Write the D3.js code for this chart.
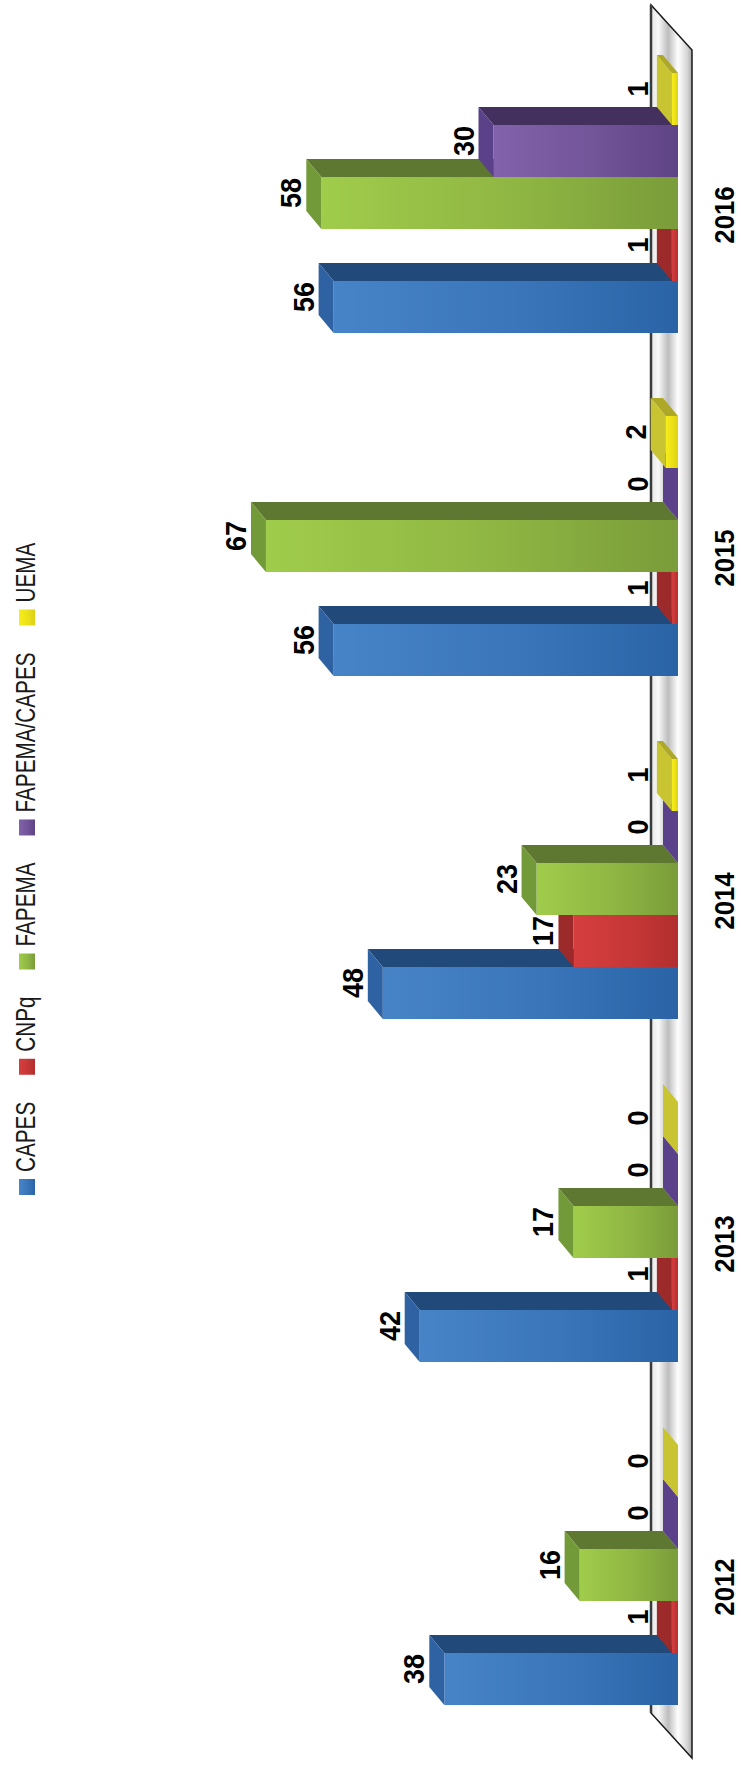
<!DOCTYPE html>
<meta charset='utf-8'>
<html>
<head>
    <title>Bolsas por ano</title>
    <script src='https://d3js.org/d3.v7.min.js'></script>
    <style>
        html, body { margin: 0; padding: 0; background: #ffffff; }
        svg { display: block; }
    </style>
</head>
<body>
<script>

    // data
    const years = ['2012', '2013', '2014', '2015', '2016'];
    const seriesNames = ['CAPES', 'CNPq', 'FAPEMA', 'FAPEMA/CAPES', 'UEMA'];
    const capes = [38, 42, 48, 56, 56];
    const cnpq = [1, 1, 17, 1, 1];
    const fapema = [16, 17, 23, 67, 58];
    const fapemaCapes = [0, 0, 0, 0, 30];
    const uema = [0, 0, 1, 2, 1];
    const seriesValues = [capes, cnpq, fapema, fapemaCapes, uema];

    const width = 741;
    const height = 1766;

    // the chart is drawn as a normal column chart, then turned -90 degrees
    const baseY = 678;      // front bottom of the columns
    const depthX = 18;      // oblique depth of a column
    const depthY = -15;

    const colours = [
        { light: '#4783c7', dark: '#2a64a7', top: '#2f62a2', side: '#214a7b' },
        { light: '#d63e3e', dark: '#b22e2e', top: '#9c2a2a', side: '#862323' },
        { light: '#a0cc4b', dark: '#7a9c3a', top: '#739a38', side: '#5e7731' },
        { light: '#8262aa', dark: '#5e4385', top: '#5a418a', side: '#43305e' },
        { light: '#f6ed1a', dark: '#ddd116', top: '#c9c431', side: '#aea828' }
    ];

    const svg = d3.select('body')
        .append('svg')
        .attr('width', width)
        .attr('height', height);

    const defs = svg.append('defs');

    colours.forEach(function (c, i) {
        const g = defs.append('linearGradient')
            .attr('id', 'front' + i)
            .attr('x1', 0).attr('y1', 0).attr('x2', 0).attr('y2', 1);
        g.append('stop').attr('offset', '0%').attr('stop-color', c.light);
        g.append('stop').attr('offset', '55%').attr('stop-color', d3.interpolateRgb(c.light, c.dark)(0.45));
        g.append('stop').attr('offset', '100%').attr('stop-color', c.dark);
    });

    // floor shading across its depth
    const floorGrad = defs.append('linearGradient')
        .attr('id', 'floorGrad')
        .attr('gradientUnits', 'userSpaceOnUse')
        .attr('x1', 0).attr('y1', 651).attr('x2', 0).attr('y2', 692);
    [['0%', '#e6e6e6'], ['18%', '#f8f8f8'], ['42%', '#bdbdbd'], ['66%', '#ffffff'],
     ['88%', '#d6d6d6'], ['100%', '#a9a9a9']].forEach(function (s) {
        floorGrad.append('stop').attr('offset', s[0]).attr('stop-color', s[1]);
    });

    const chart = svg.append('g')
        .attr('transform', 'translate(0,' + height + ') rotate(-90)');

    // scales
    const x = d3.scaleBand()
        .domain(years)
        .range([61, 1693])
        .paddingInner(0.242)
        .paddingOuter(0);

    const xSeries = d3.scaleBand()
        .domain(seriesNames)
        .range([0, x.bandwidth()])
        .padding(0);

    const y = d3.scaleLinear()
        .domain([0, 70])
        .range([baseY, baseY - 70 * 6.15]);

    // floor
    chart.append('path')
        .attr('d', 'M53,651 L1761,651 L1716,692 L8,692 Z')
        .attr('fill', 'url(#floorGrad)')
        .attr('stroke', '#1a1a1a')
        .attr('stroke-width', 1.5);

    chart.append('line')
        .attr('x1', 53).attr('x2', 1761)
        .attr('y1', 651).attr('y2', 651)
        .attr('stroke', '#3a3a3a')
        .attr('stroke-width', 2.5);

    // flatten to one record per column
    const bars = [];
    years.forEach(function (yr, j) {
        seriesNames.forEach(function (s, i) {
            bars.push({ year: yr, series: s, index: i, value: seriesValues[i][j] });
        });
    });

    const w = xSeries.bandwidth();

    const barG = chart.append('g')
        .selectAll('g.bar')
        .data(bars)
        .enter()
        .append('g')
        .attr('class', 'bar');

    // right side face
    barG.append('path')
        .attr('d', function (d) {
            const x0 = x(d.year) + xSeries(d.series) + w;
            const yt = y(d.value);
            return 'M' + x0 + ',' + yt + ' L' + x0 + ',' + baseY +
                ' L' + (x0 + depthX) + ',' + (baseY + depthY) +
                ' L' + (x0 + depthX) + ',' + (yt + depthY) + ' Z';
        })
        .attr('fill', function (d) { return colours[d.index].side; });

    // front face
    barG.append('rect')
        .attr('x', function (d) { return x(d.year) + xSeries(d.series); })
        .attr('y', function (d) { return y(d.value); })
        .attr('width', w)
        .attr('height', function (d) { return baseY - y(d.value); })
        .attr('fill', function (d) { return 'url(#front' + d.index + ')'; });

    // top face
    barG.append('path')
        .attr('d', function (d) {
            const x0 = x(d.year) + xSeries(d.series);
            const yt = y(d.value);
            return 'M' + x0 + ',' + yt + ' L' + (x0 + w) + ',' + yt +
                ' L' + (x0 + w + depthX) + ',' + (yt + depthY) +
                ' L' + (x0 + depthX) + ',' + (yt + depthY) + ' Z';
        })
        .attr('fill', function (d) { return colours[d.index].top; });

    // value labels
    chart.append('g')
        .selectAll('g.label')
        .data(bars)
        .enter()
        .append('g')
        .attr('class', 'label')
        .attr('transform', function (d) {
            const cx = x(d.year) + xSeries(d.series) + w / 2 + 10;
            const by = Math.min(y(d.value) + depthY - 5, 648);
            return 'translate(' + cx + ',' + by + ') scale(0.9,1)';
        })
        .append('text')
        .attr('text-anchor', 'middle')
        .style('font-family', "'Liberation Sans', Arial, sans-serif")
        .style('font-weight', 'bold')
        .style('font-size', '30px')
        .attr('fill', '#000')
        .text(function (d) { return d.value; });

    // year labels (kept just inside the page edge)
    chart.append('g')
        .selectAll('g.year')
        .data(years)
        .enter()
        .append('g')
        .attr('class', 'year')
        .attr('transform', function (d) {
            return 'translate(' + (x(d) + x.bandwidth() / 2 - 12) + ',734) scale(0.92,1)';
        })
        .append('text')
        .attr('text-anchor', 'middle')
        .style('font-family', "'Liberation Sans', Arial, sans-serif")
        .style('font-weight', 'bold')
        .style('font-size', '28px')
        .attr('fill', '#000')
        .text(function (d) { return d; });

    // legend
    const legend = chart.append('g').attr('class', 'legend');
    let lx = 571;
    seriesNames.forEach(function (s, i) {
        const item = legend.append('g').attr('transform', 'translate(' + lx + ',0)');
        item.append('rect')
            .attr('x', 0).attr('y', 19)
            .attr('width', 16).attr('height', 16)
            .attr('fill', 'url(#front' + i + ')');
        const t = item.append('g')
            .attr('transform', 'translate(23,35) scale(0.74,1)')
            .append('text')
            .style('font-family', "'Liberation Sans', Arial, sans-serif")
            .style('font-size', '28px')
            .attr('fill', '#1a1a1a')
            .text(s);
        lx += 23 + t.node().getComputedTextLength() * 0.74 + 27;
    });

</script>
</body>
</html>
